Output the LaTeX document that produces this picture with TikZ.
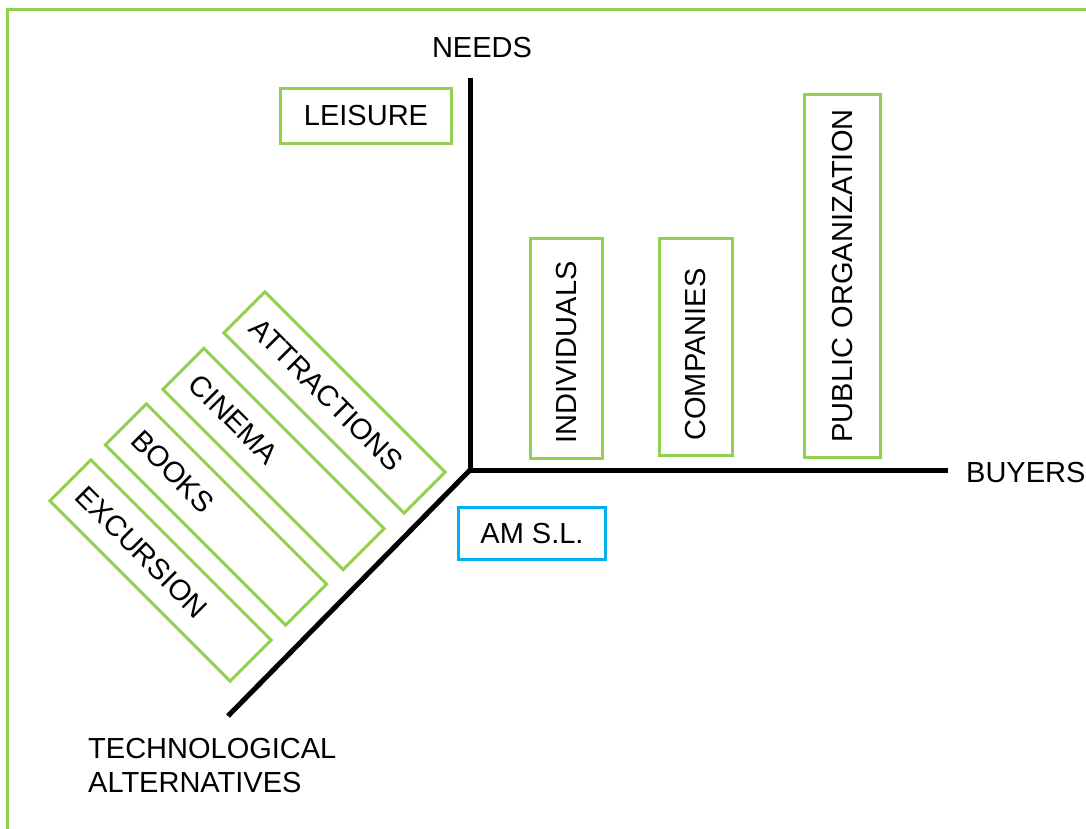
\documentclass[tikz,border=0pt]{standalone}
\usepackage{fontspec}
\setmainfont{Liberation Sans}
\definecolor{lgreen}{HTML}{92D050}
\definecolor{lblue}{HTML}{00B0F0}
\begin{document}
\begin{tikzpicture}[x=1pt,y=-1pt,
  lab/.style={font=\fontsize{29}{34}\selectfont, text=black},
  gbox/.style={lab, draw=lgreen, line width=3pt},
  diagbox/.style={gbox, rotate=-45, minimum height=58pt, inner xsep=15pt, text width=225pt, align=left},
  vbox/.style={gbox, rotate=90, inner xsep=15pt, align=left},
  axis/.style={line width=5pt, black}
]
\useasboundingbox (0,0) rectangle (1086,829);
\draw[lgreen, line width=3pt] (7.5,829) -- (7.5,9.5) -- (1086,9.5);

\coordinate (O) at (470,470);
\coordinate (N) at (470,78);
\coordinate (B) at (948,470);
\coordinate (T) at (228,716);
\draw[axis] (N) -- (O) -- (B);
\draw[axis] (O) -- (T);

\node[lab, anchor=base] (needs) at (482,58) {NEEDS};
\node[lab, anchor=base west, inner sep=0pt] (buyers) at (966,482) {BUYERS};
\node[lab, anchor=north west, inner sep=0pt, align=left] (tech) at (88,738) {TECHNOLOGICAL\\ALTERNATIVES};

\node[gbox, minimum width=171pt, minimum height=55pt] (leisure) at (366,116) {LEISURE};
\node[lab, draw=lblue, line width=3pt, minimum width=147pt, minimum height=52pt] (am) at (532,533.5) {AM S.L.};

\node[vbox, minimum width=220pt, minimum height=72pt, text width=190pt] (ind) at (566.5,348.5) {INDIVIDUALS};
\node[vbox, minimum width=217pt, minimum height=73pt, text width=187pt] (comp) at (696,347) {COMPANIES};
\node[vbox, minimum width=363pt, minimum height=76pt, text width=333pt] (pub) at (842.5,276) {PUBLIC ORGANIZATION};

\node[diagbox] (attr) at (334.5,402.5) {ATTRACTIONS};
\node[diagbox] (cine) at (273.5,459) {CINEMA};
\node[diagbox] (books) at (216,514.5) {BOOKS};
\node[diagbox] (exc) at (160.5,570.5) {EXCURSION};
\end{tikzpicture}
\end{document}
